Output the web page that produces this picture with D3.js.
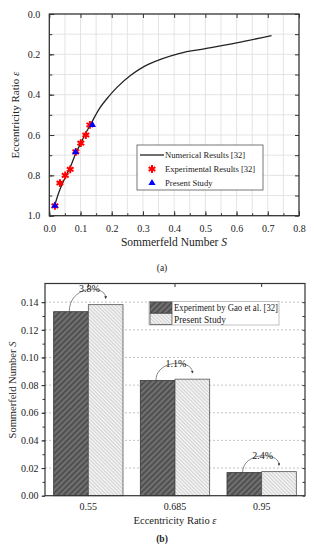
<!doctype html>
<html>
<head>
<meta charset="utf-8">
<script src="https://cdnjs.cloudflare.com/ajax/libs/d3/7.8.5/d3.min.js"></script>
<style>
  body { margin: 0; background: #fff; }
  text { font-family: "Liberation Serif", "DejaVu Serif", serif; fill: #222; }
</style>
</head>
<body>
<svg width="314" height="550"></svg>
<script>
// ---- chart (a) data ----
var numS   = [0.015, 0.034, 0.051, 0.067, 0.085, 0.101, 0.117, 0.135, 0.16, 0.19, 0.216, 0.26, 0.317, 0.418, 0.5, 0.6, 0.712];
var numEcc = [0.96, 0.87, 0.81, 0.76, 0.69, 0.64, 0.59, 0.54, 0.47, 0.41, 0.365, 0.305, 0.25, 0.195, 0.172, 0.143, 0.107];
var expS   = [0.018, 0.034, 0.051, 0.067, 0.085, 0.101, 0.117, 0.13];
var expEcc = [0.951, 0.838, 0.80, 0.77, 0.683, 0.64, 0.60, 0.55];
var presS   = [0.018, 0.084, 0.138];
var presEcc = [0.95, 0.685, 0.55];

// ---- chart (b) data ----
var eccCats = ["0.55", "0.685", "0.95"];
var gaoVals = [0.1331, 0.0833, 0.0167];
var presVals = [0.1382, 0.0843, 0.0174];
var diffLabels = ["3.8%", "1.1%", "2.4%"];
var seriesNames = ["Experiment by Gao et al. [32]", "Present Study"];

var svg = d3.select("svg");
var frame = "#333";

// ================= (a) =================
var xa = d3.scaleLinear().domain([0, 0.8]).range([49.3, 299]);
var ya = d3.scaleLinear().domain([0, 1]).range([14, 215.7]);
var ga = svg.append("g");

// grid
ga.append("g").selectAll("line").data(d3.range(1, 16).map(d => d * 0.05))
  .enter().append("line")
  .attr("x1", d => xa(d)).attr("x2", d => xa(d))
  .attr("y1", ya(0)).attr("y2", ya(1))
  .attr("stroke", "#ddd").attr("stroke-width", 0.8);
ga.append("g").selectAll("line").data(d3.range(1, 10).map(d => d * 0.1))
  .enter().append("line")
  .attr("y1", d => ya(d)).attr("y2", d => ya(d))
  .attr("x1", xa(0)).attr("x2", xa(0.8))
  .attr("stroke", "#ddd").attr("stroke-width", 0.8);

function styleAxis(g) {
  g.attr("font-family", "Liberation Serif").attr("font-size", 10);
  g.select(".domain").remove();
  g.selectAll(".tick line").attr("stroke", frame);
  g.selectAll(".tick text").attr("fill", "#222");
}
// minor + major ticks, inward
ga.append("g").attr("transform", "translate(0," + ya(1) + ")")
  .call(d3.axisBottom(xa).tickValues(d3.range(0, 17).map(d => d * 0.05)).tickSize(-2.5).tickFormat(""))
  .call(styleAxis);
ga.append("g").attr("transform", "translate(0," + ya(1) + ")")
  .call(d3.axisBottom(xa).tickValues(d3.range(0, 9).map(d => d * 0.1)).tickSize(-4.5).tickPadding(9).tickFormat(d3.format(".1f")))
  .call(styleAxis);
ga.append("g").attr("transform", "translate(0," + ya(0) + ")")
  .call(d3.axisTop(xa).tickValues(d3.range(0, 9).map(d => d * 0.1)).tickSize(-4).tickFormat(""))
  .call(styleAxis);
ga.append("g").attr("transform", "translate(" + xa(0) + ",0)")
  .call(d3.axisLeft(ya).tickValues(d3.range(0, 11).map(d => d * 0.1)).tickSize(-3).tickFormat(""))
  .call(styleAxis);
ga.append("g").attr("transform", "translate(" + xa(0) + ",0)")
  .call(d3.axisLeft(ya).tickValues(d3.range(0, 6).map(d => d * 0.2)).tickSize(-5).tickPadding(9).tickFormat(d3.format(".1f")))
  .call(styleAxis);
ga.append("g").attr("transform", "translate(" + xa(0.8) + ",0)")
  .call(d3.axisRight(ya).tickValues(d3.range(0, 11).map(d => d * 0.1)).tickSize(-4).tickFormat(""))
  .call(styleAxis);

ga.append("rect").attr("x", xa(0)).attr("y", ya(0))
  .attr("width", xa(0.8) - xa(0)).attr("height", ya(1) - ya(0))
  .attr("fill", "none").attr("stroke", frame).attr("stroke-width", 1.3);

// curve
var line = d3.line().x((d, i) => xa(numS[i])).y(d => ya(d)).curve(d3.curveCatmullRom.alpha(0.5));
ga.append("path").datum(numEcc).attr("d", line)
  .attr("fill", "none").attr("stroke", "#222").attr("stroke-width", 1.3);

var star = d3.symbol().type(d3.symbolAsterisk).size(42);
var tri = d3.symbol().type(d3.symbolTriangle).size(22);
ga.append("g").selectAll("path").data(expEcc).enter().append("path")
  .attr("d", star)
  .attr("transform", (d, i) => "translate(" + xa(expS[i]) + "," + ya(d) + ")")
  .attr("fill", "none").attr("stroke", "#f00").attr("stroke-width", 2);
ga.append("g").selectAll("path").data(presEcc).enter().append("path")
  .attr("d", tri)
  .attr("transform", (d, i) => "translate(" + xa(presS[i]) + "," + ya(d) + ")")
  .attr("fill", "#00f");

// legend (a)
var la = ga.append("g").attr("transform", "translate(137,145)");
la.append("rect").attr("width", 126).attr("height", 45).attr("fill", "#fff").attr("stroke", "#555").attr("stroke-width", 0.8);
la.append("line").attr("x1", 3).attr("x2", 27).attr("y1", 10).attr("y2", 10).attr("stroke", "#222").attr("stroke-width", 1.3);
la.append("path").attr("d", star).attr("transform", "translate(15,24)").attr("fill", "none").attr("stroke", "#f00").attr("stroke-width", 2);
la.append("path").attr("d", tri).attr("transform", "translate(15,38)").attr("fill", "#00f");
la.selectAll("text.l").data(["Numerical Results [32]", "Experimental Results [32]", "Present Study"])
  .enter().append("text").attr("x", 28).attr("y", (d, i) => 13 + i * 14)
  .style("font-size", "8.6px").text(d => d);

// axis titles (a)
var tx = ga.append("text").attr("x", 174).attr("y", 246).attr("text-anchor", "middle").style("font-size", "11.5px");
tx.append("tspan").text("Sommerfeld Number ");
tx.append("tspan").style("font-style", "italic").text("S");
var ty = ga.append("text").attr("transform", "translate(19,115) rotate(-90)").attr("text-anchor", "middle").style("font-size", "11px");
ty.append("tspan").text("Eccentricity Ratio ");
ty.append("tspan").style("font-style", "italic").text("ε");
ga.append("text").attr("x", 162).attr("y", 271).attr("text-anchor", "middle").style("font-size", "9.5px").text("(a)");

// ================= (b) =================
var defs = svg.append("defs");
var p1 = defs.append("pattern").attr("id", "hatchDark").attr("patternUnits", "userSpaceOnUse")
  .attr("width", 4).attr("height", 4).attr("patternTransform", "rotate(-45)");
p1.append("rect").attr("width", 4).attr("height", 4).attr("fill", "#707070");
p1.append("line").attr("x1", 0).attr("x2", 4).attr("y1", 1).attr("y2", 1).attr("stroke", "#3e3e3e").attr("stroke-width", 1.3);
var p2 = defs.append("pattern").attr("id", "hatchLight").attr("patternUnits", "userSpaceOnUse")
  .attr("width", 2.6).attr("height", 2.6).attr("patternTransform", "rotate(45)");
p2.append("rect").attr("width", 2.6).attr("height", 2.6).attr("fill", "#f5f5f5");
p2.append("line").attr("x1", 0).attr("x2", 2.6).attr("y1", 0.6).attr("y2", 0.6).attr("stroke", "#bbb").attr("stroke-width", 0.7);
var arrowM = defs.append("marker").attr("id", "arr").attr("viewBox", "0 0 10 10").attr("refX", 5).attr("refY", 5)
  .attr("markerWidth", 4).attr("markerHeight", 4).attr("orient", "auto");
arrowM.append("path").attr("d", "M0,0L10,5L0,10z").attr("fill", "#333");

var xb = d3.scaleBand().domain(eccCats).range([45, 305]).paddingInner(0.2).paddingOuter(0.1);
var xsub = d3.scaleBand().domain([0, 1]).range([0, xb.bandwidth()]);
var yb = d3.scaleLinear().domain([0, 0.1535]).range([495.7, 283.5]);
var gb = svg.append("g");

gb.append("g").selectAll("line").data(d3.range(1, 8).map(d => d * 0.02))
  .enter().append("line")
  .attr("x1", xb.range()[0]).attr("x2", xb.range()[1])
  .attr("y1", d => yb(d)).attr("y2", d => yb(d))
  .attr("stroke", "#aaa").attr("stroke-width", 0.7).attr("stroke-dasharray", "2,2");

gb.append("g").attr("transform", "translate(45,0)")
  .call(d3.axisLeft(yb).tickValues(d3.range(0, 15).map(d => d * 0.01)).tickSize(2.5).tickFormat(""))
  .call(styleAxis);
gb.append("g").attr("transform", "translate(45,0)")
  .call(d3.axisLeft(yb).tickValues(d3.range(0, 8).map(d => d * 0.02)).tickSize(3.5).tickPadding(3).tickFormat(d3.format(".2f")))
  .call(styleAxis);
gb.append("g").attr("transform", "translate(305,0)")
  .call(d3.axisRight(yb).tickValues(d3.range(0, 15).map(d => d * 0.01)).tickSize(-2.5).tickFormat(""))
  .call(styleAxis);
gb.append("g").attr("transform", "translate(0," + yb(0) + ")")
  .call(d3.axisBottom(xb).tickSize(0).tickPadding(7))
  .call(styleAxis);
gb.append("g").attr("transform", "translate(0," + yb.range()[1] + ")")
  .call(d3.axisTop(xb).tickSize(-3.5).tickFormat(""))
  .call(styleAxis);

// bars
var groups = gb.append("g").selectAll("g").data(eccCats).enter().append("g")
  .attr("transform", d => "translate(" + xb(d) + ",0)");
groups.append("rect")
  .attr("x", xsub(0)).attr("width", xsub.bandwidth())
  .attr("y", (d, i) => yb(gaoVals[i])).attr("height", (d, i) => yb(0) - yb(gaoVals[i]))
  .attr("fill", "url(#hatchDark)").attr("stroke", "#333").attr("stroke-width", 0.8);
groups.append("rect")
  .attr("x", xsub(1)).attr("width", xsub.bandwidth())
  .attr("y", (d, i) => yb(presVals[i])).attr("height", (d, i) => yb(0) - yb(presVals[i]))
  .attr("fill", "url(#hatchLight)").attr("stroke", "#555").attr("stroke-width", 0.8);

// difference arrows
groups.append("path")
  .attr("d", (d, i) => {
    var sx = xsub(0) + xsub.bandwidth() * 0.45, sy = yb(gaoVals[i]);
    var ex = xsub(1) + xsub.bandwidth() * 0.5, ey = yb(presVals[i]) - 7;
    var top = Math.min(sy, ey) - 13;
    return "M" + sx + "," + sy + "C" + sx + "," + top + " " + ex + "," + top + " " + ex + "," + ey;
  })
  .attr("fill", "none").attr("stroke", "#555").attr("stroke-width", 0.7)
  .attr("marker-end", "url(#arr)");
groups.append("text")
  .attr("x", xb.bandwidth() / 2 + 1)
  .attr("y", (d, i) => Math.min(yb(gaoVals[i]), yb(presVals[i])) - 12.5)
  .attr("text-anchor", "middle").style("font-size", "10px")
  .text((d, i) => diffLabels[i]);

gb.append("rect").attr("x", 45).attr("y", yb.range()[1])
  .attr("width", 260).attr("height", yb(0) - yb.range()[1])
  .attr("fill", "none").attr("stroke", frame).attr("stroke-width", 1.2);

// legend (b)
var lb = gb.append("g").attr("transform", "translate(149,301.5)");
lb.append("rect").attr("width", 130).attr("height", 23.5).attr("fill", "#fff").attr("stroke", "#999").attr("stroke-width", 0.6);
lb.selectAll("rect.sw").data(seriesNames).enter().append("rect")
  .attr("x", 1).attr("y", (d, i) => 0.5 + i * 11.5).attr("width", 22).attr("height", 11)
  .attr("fill", (d, i) => i === 0 ? "url(#hatchDark)" : "url(#hatchLight)")
  .attr("stroke", "#444").attr("stroke-width", 0.7);
lb.selectAll("text.lt").data(seriesNames).enter().append("text")
  .attr("x", 25).attr("y", (d, i) => 9.5 + i * 11.5)
  .attr("textLength", (d, i) => i === 0 ? 104 : 52).attr("lengthAdjust", "spacingAndGlyphs")
  .style("font-size", "10px").text(d => d);

// axis titles (b)
var tbx = gb.append("text").attr("x", 175).attr("y", 524).attr("text-anchor", "middle").style("font-size", "10.5px");
tbx.append("tspan").text("Eccentricity Ratio ");
tbx.append("tspan").style("font-style", "italic").text("ε");
var tby = gb.append("text").attr("transform", "translate(16,390) rotate(-90)").attr("text-anchor", "middle").style("font-size", "10.5px");
tby.append("tspan").text("Sommerfeld Number ");
tby.append("tspan").style("font-style", "italic").text("S");
gb.append("text").attr("x", 162).attr("y", 542).attr("text-anchor", "middle").style("font-size", "9.5px").style("font-weight", "bold").text("(b)");
</script>
</body>
</html>
